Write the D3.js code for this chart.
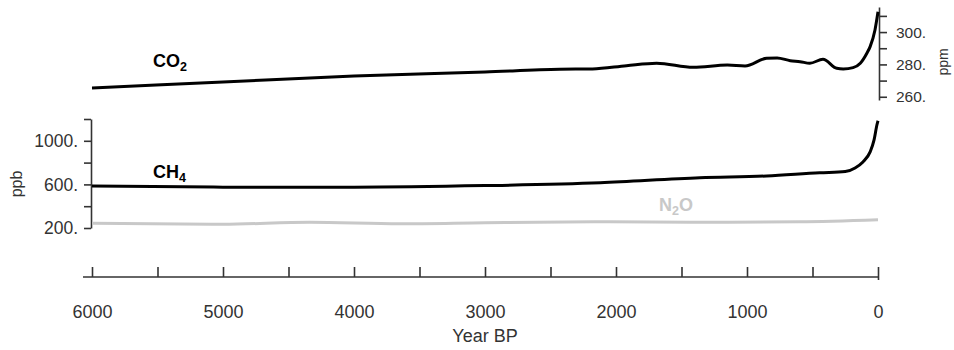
<!DOCTYPE html>
<html>
<head>
<meta charset="utf-8">
<script src="https://cdn.jsdelivr.net/npm/d3@7"></script>
<style>
    body { margin: 0; background: #fff; }
    svg { display: block; font-family: 'Liberation Sans', Arial, sans-serif; }
    .axis path, .axis line { stroke: #333; stroke-width: 1.6; }
    .axis text { fill: #333; }
</style>
</head>
<body>
<svg id="chart" width="954" height="350"></svg>
<script>
// tick values
const YEAR_TICKS = [6000, 5500, 5000, 4500, 4000, 3500, 3000, 2500, 2000, 1500, 1000, 500, 0];
const YEAR_LABELS = [6000, 5000, 4000, 3000, 2000, 1000, 0];
const PPM_TICKS = [260, 270, 280, 290, 300, 310];
const PPM_LABELS = [260, 280, 300];
const PPB_TICKS = [200, 400, 600, 800, 1000, 1200];
const PPB_LABELS = [200, 600, 1000];

// series (years before present, concentration)
const CO2_YEARS = [6000, 5000, 4000, 3000, 2430, 2180, 1920, 1690, 1410, 1150, 1015, 850, 770, 670, 595, 520, 420, 315, 265, 190, 135, 85, 60, 23, 0];
const CO2_PPM = [265.4, 269.1, 272.8, 275.3, 277.0, 277.2, 279.2, 280.7, 278.2, 279.6, 279.0, 283.8, 284.0, 282.3, 281.7, 280.7, 283.2, 277.6, 277.2, 278.0, 280.7, 286.9, 291.0, 301.3, 312.5];

const CH4_YEARS = [6000, 5000, 4000, 3000, 2120, 1360, 850, 445, 250, 175, 115, 60, 30, 8, 0];
const CH4_PPB = [585, 575, 575, 589, 615, 661, 677, 707, 718, 751, 806, 898, 1009, 1147, 1184];

const N2O_YEARS = [6000, 5000, 4340, 3650, 3000, 2120, 1360, 600, 0];
const N2O_PPB = [243, 234, 253, 239, 248, 257, 253, 257, 276];

const svg = d3.select('#chart');

const xScale = d3.scaleLinear().domain([6000, 0]).range([92, 878]);
const ppmScale = d3.scaleLinear().domain([258, 315.5]).range([100, 7]);
const ppbScale = d3.scaleLinear().domain([200, 1200]).range([228, 119]);

function renderLine(years, values, yScale, color) {
    const line = d3.line()
        .curve(d3.curveMonotoneX)
        .x(d => xScale(d[0]))
        .y(d => yScale(d[1]));

    svg.append('path')
        .attr('d', line(d3.zip(years, values)))
        .attr('fill', 'none')
        .attr('stroke', color)
        .attr('stroke-width', 3)
        .attr('stroke-linejoin', 'round')
        .attr('stroke-linecap', 'butt');
}

// chemical formula with a subscript, e.g. N + 2 + O
function renderGasLabel(x, y, before, sub, after, color) {
    const t = svg.append('text')
        .attr('x', x)
        .attr('y', y)
        .attr('fill', color)
        .style('font-size', '18px')
        .style('font-weight', 'bold');
    t.append('tspan').text(before);
    t.append('tspan').attr('dy', 4).style('font-size', '12.5px').text(sub);
    if (after) t.append('tspan').attr('dy', -4).text(after);
}

function renderAxes() {
    // time axis, ticks pointing up
    const xAxis = d3.axisBottom(xScale)
        .tickValues(YEAR_TICKS)
        .tickSize(-10)
        .tickSizeOuter(0)
        .tickPadding(28)
        .tickFormat(d => YEAR_LABELS.includes(d) ? d : '');
    const gx = svg.append('g')
        .attr('class', 'axis')
        .attr('transform', 'translate(0,277)')
        .call(xAxis);
    gx.select('.domain').attr('d', `M${xScale(6000) - 9},0H${xScale(0)}`);
    gx.selectAll('.tick').filter(d => d === 0).select('line').attr('y1', 3);
    gx.selectAll('text').style('font-size', '18px');

    svg.append('text')
        .attr('x', (xScale(6000) + xScale(0)) / 2)
        .attr('y', 342)
        .attr('text-anchor', 'middle')
        .attr('fill', '#333')
        .style('font-size', '18px')
        .text('Year BP');

    // CH4 / N2O axis on the left
    const ppbAxis = d3.axisLeft(ppbScale)
        .tickValues(PPB_TICKS)
        .tickSize(7)
        .tickSizeOuter(0)
        .tickPadding(6)
        .tickFormat(d => PPB_LABELS.includes(d) ? d + '.' : '');
    svg.append('g')
        .attr('class', 'axis')
        .attr('transform', 'translate(91,0)')
        .call(ppbAxis)
        .selectAll('text').style('font-size', '17.5px');

    svg.append('text')
        .attr('transform', 'translate(22,184) rotate(-90)')
        .attr('text-anchor', 'middle')
        .attr('fill', '#333')
        .style('font-size', '16px')
        .text('ppb');

    // CO2 axis on the right
    const ppmAxis = d3.axisRight(ppmScale)
        .tickValues(PPM_TICKS)
        .tickSize(8)
        .tickSizeOuter(0)
        .tickPadding(9)
        .tickFormat(d => PPM_LABELS.includes(d) ? d + '.' : '');
    svg.append('g')
        .attr('class', 'axis')
        .attr('transform', 'translate(879,0)')
        .call(ppmAxis)
        .selectAll('text').style('font-size', '15.5px');

    svg.append('text')
        .attr('transform', 'translate(948,62) rotate(-90)')
        .attr('text-anchor', 'middle')
        .attr('fill', '#333')
        .style('font-size', '14px')
        .text('ppm');
}

renderAxes();
renderLine(N2O_YEARS, N2O_PPB, ppbScale, '#c8c8c8');
renderLine(CH4_YEARS, CH4_PPB, ppbScale, '#000');
renderLine(CO2_YEARS, CO2_PPM, ppmScale, '#000');

renderGasLabel(153, 67, 'CO', '2', '', '#000');
renderGasLabel(153, 178, 'CH', '4', '', '#000');
renderGasLabel(659, 211, 'N', '2', 'O', '#c8c8c8');
</script>
</body>
</html>
